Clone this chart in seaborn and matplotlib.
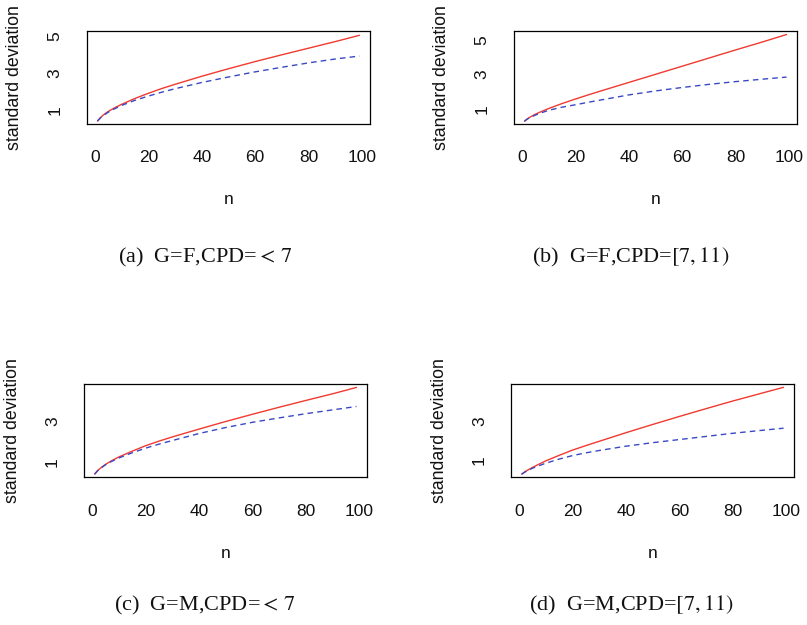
import numpy as np
import pandas as pd
import matplotlib
matplotlib.use("Agg")
import matplotlib.pyplot as plt
import seaborn as sns

sns.set_style("white")
plt.rcParams['font.family'] = ['Liberation Sans', 'DejaVu Sans']
plt.rcParams['mathtext.fontset'] = 'stix'

# ---- data ----
n = [1, 2, 3, 5, 7, 10, 15, 20, 25, 30, 40, 50, 60, 70, 80, 90, 99]

red_a = [0.40, 0.57, 0.71, 0.92, 1.09, 1.31, 1.63, 1.91, 2.17, 2.40, 2.84, 3.25, 3.64, 4.01, 4.37, 4.73, 5.07]
blue_a = [0.40, 0.56, 0.68, 0.88, 1.04, 1.25, 1.53, 1.76, 1.97, 2.16, 2.50, 2.80, 3.08, 3.33, 3.57, 3.78, 3.94]

red_b = [0.29, 0.42, 0.52, 0.69, 0.83, 1.02, 1.31, 1.57, 1.82, 2.06, 2.53, 3.00, 3.47, 3.94, 4.41, 4.87, 5.30]
blue_b = [0.29, 0.41, 0.50, 0.64, 0.76, 0.92, 1.10, 1.24, 1.39, 1.53, 1.81, 2.04, 2.24, 2.42, 2.58, 2.72, 2.84]

red_c = [0.38, 0.54, 0.66, 0.86, 1.02, 1.23, 1.52, 1.79, 2.02, 2.23, 2.62, 3.00, 3.36, 3.71, 4.05, 4.38, 4.70]
blue_c = [0.38, 0.53, 0.65, 0.84, 0.99, 1.18, 1.44, 1.67, 1.87, 2.05, 2.40, 2.70, 2.96, 3.18, 3.39, 3.58, 3.75]

red_d = [0.29, 0.39, 0.48, 0.63, 0.77, 0.97, 1.25, 1.52, 1.75, 1.97, 2.41, 2.83, 3.24, 3.64, 4.03, 4.40, 4.73]
blue_d = [0.29, 0.38, 0.46, 0.59, 0.70, 0.85, 1.06, 1.24, 1.38, 1.50, 1.72, 1.90, 2.06, 2.22, 2.38, 2.52, 2.64]

captions = [r"(a)  G=F,CPD=$<\,7$", r"(b)  G=F,CPD=$[7,11)$",
            r"(c)  G=M,CPD=$<\,7$", r"(d)  G=M,CPD=$[7,11)$"]
x_ticks = [0, 20, 40, 60, 80, 100]
y_ticks_top = [1, 2, 3, 4, 5]
y_labels_top = ["1", "", "3", "", "5"]
y_ticks_bot = [1, 2, 3, 4]
y_labels_bot = ["1", "", "3", ""]

panels = [
    (red_a, blue_a, (0.24, 5.32), y_ticks_top, y_labels_top),
    (red_b, blue_b, (0.13, 5.52), y_ticks_top, y_labels_top),
    (red_c, blue_c, (0.22, 4.87), y_ticks_bot, y_labels_bot),
    (red_d, blue_d, (0.13, 4.90), y_ticks_bot, y_labels_bot),
]

W, H = 807, 625
fig = plt.figure(figsize=(W / 100, H / 100), dpi=100)

# axes boxes in pixels: left, right, top, bottom
boxes = [(87, 370, 30.7, 124), (514, 797, 30.7, 124),
         (84.2, 367, 384, 477.3), (511.2, 794, 384, 477.3)]
xlabel_y = [200, 200, 554, 554]
cap_pos = [(205, 257), (631, 257), (205, 605), (631, 605)]

red_col = '#f03a30'
blue_col = '#3a48c4'

for i, ((r, b, ylim, yt, yl), (l, rr, t, bt)) in enumerate(zip(panels, boxes)):
    ax = fig.add_axes([l / W, 1 - bt / H, (rr - l) / W, (bt - t) / H])
    df = pd.DataFrame({
        'n': n + n,
        'sd': r + b,
        'method': ['red'] * len(n) + ['blue'] * len(n),
    })
    sns.lineplot(data=df, x='n', y='sd', hue='method', style='method',
                 palette={'red': red_col, 'blue': blue_col},
                 dashes={'red': '', 'blue': (4, 3)},
                 linewidth=1.0, legend=False, ax=ax, sort=False)
    span = max(n) - min(n)
    ax.set_xlim(min(n) - 0.04 * span, max(n) + 0.04 * span)
    ax.set_ylim(*ylim)
    ax.set_xticks(x_ticks)
    ax.set_xticklabels([str(v) for v in x_ticks])
    ax.set_yticks(yt)
    ax.set_yticklabels(yl, rotation=90, va='center')
    for s in ax.spines.values():
        s.set_visible(True)
        s.set_color('black')
        s.set_linewidth(0.9)
    ax.tick_params(axis='both', direction='out', length=8, width=0.9,
                   color='#333333', labelsize=12.5, labelcolor='#111111')
    ax.tick_params(axis='x', pad=11)
    ax.tick_params(axis='y', pad=9.5)
    ax.set_xlabel('n', fontsize=12.5, color='#111111')
    ax.set_ylabel('standard deviation', fontsize=12.8, color='#111111')
    ax.xaxis.set_label_coords(0.5, (bt - xlabel_y[i]) / (bt - t))
    ax.xaxis.label.set_va('center')
    ax.yaxis.set_label_coords(-72 / (rr - l), 0.5)
    ax.yaxis.label.set_va('center')
    cx, cy = cap_pos[i]
    fig.text(cx / W, 1 - cy / H, captions[i], ha='center', va='center',
             fontsize=16, family=['Liberation Serif', 'DejaVu Serif'], color='#111111')

fig.savefig('out.png', dpi=100, facecolor='white')
